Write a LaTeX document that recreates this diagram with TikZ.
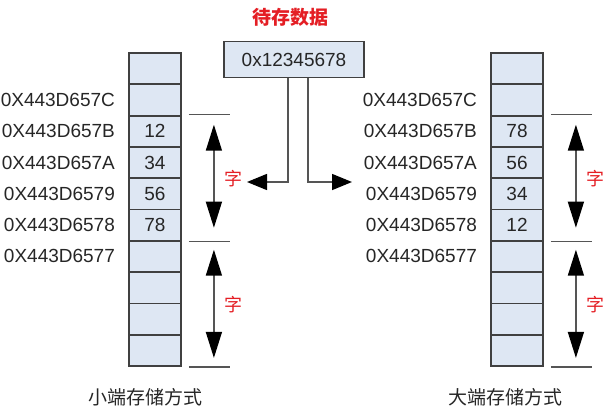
\documentclass[tikz,border=0pt]{standalone}
\usepackage{fontspec}
\setmainfont{Liberation Sans}
\newfontfamily\cjk{Noto Sans CJK SC}
\usetikzlibrary{arrows.meta, positioning}
\definecolor{cellfill}{RGB}{222,231,243}
\definecolor{cellline}{RGB}{64,64,64}
\definecolor{wordred}{RGB}{228,30,36}
\definecolor{wiregray}{RGB}{85,85,85}

\begin{document}
\begin{tikzpicture}[x=1pt, y=-1pt,
    % memory cell - one byte
    cell/.style={rectangle, draw=cellline, line width=1.8pt, fill=cellfill,
        minimum width=52pt, minimum height=31.3pt, inner sep=0pt,
        font=\fontsize{19}{19}\selectfont, text=black!85},
    % address label left of a cell
    addr/.style={font=\fontsize{19}{19}\selectfont, text=black!85, inner sep=0pt},
    % value box at top
    databox/.style={rectangle, draw=cellline, line width=1.5pt, fill=cellfill,
        minimum width=140pt, minimum height=36pt, inner sep=0pt,
        font=\fontsize{19}{19}\selectfont, text=black!85},
    % red title and word labels
    ttl/.style={font=\cjk\bfseries\fontsize{19}{19}\selectfont, text=wordred, inner sep=0pt},
    wordlbl/.style={font=\cjk\fontsize{18}{18}\selectfont, text=wordred, inner sep=0pt},
    % bottom caption
    captxt/.style={font=\cjk\fontsize{19}{19}\selectfont, text=black!85, inner sep=0pt},
    % word boundary tick
    wordtick/.style={draw=wiregray, line width=1.5pt},
    % word size arrow
    dbl/.style={draw=wiregray, line width=1.5pt,
        {Triangle[length=26pt, width=16pt, color=black]}-{Triangle[length=26pt, width=16pt, color=black]}},
    % feed arrow from value box
    feed/.style={draw=wiregray, line width=1.5pt, -{Triangle[length=20pt, width=16pt, color=black]}}
]
    \useasboundingbox (0,0) rectangle (607,412);

    % value to be stored
    \node[databox] (val) at (294,59.5) {0x12345678};
    \node[ttl] (title) at (290,17) {待存数据};

    % little endian column (left)
    \foreach \i/\v in {1/{},2/{},3/12,4/34,5/56,6/78,7/{},8/{},9/{},10/{}}
        \node[cell] (l\i) at (155,{53+31.3*(\i-0.5)}) {\v};
    % big endian column (right)
    \foreach \i/\v in {1/{},2/{},3/78,4/56,5/34,6/12,7/{},8/{},9/{},10/{}}
        \node[cell] (r\i) at (517,{53+31.3*(\i-0.5)}) {\v};

    % addresses
    \foreach \i/\a in {2/0X443D657C,3/0X443D657B,4/0X443D657A,5/0X443D6579,6/0X443D6578,7/0X443D6577} {
        \node[addr, left=13pt of l\i] (la\i) {\a};
        \node[addr, left=13pt of r\i] (ra\i) {\a};
    }

    % word brackets
    \foreach \s in {l,r} {
        \coordinate (\s t1) at ([xshift=32pt]\s3.north east);
        \coordinate (\s t2) at ([xshift=32pt]\s6.south east);
        \coordinate (\s t3) at ([xshift=32pt]\s10.south east);
        \foreach \k in {1,2,3}
            \draw[wordtick] ([xshift=-25pt]\s t\k) -- ([xshift=16pt]\s t\k);
        \draw[dbl, shorten <=10pt, shorten >=14pt] (\s t1) -- node[wordlbl, right=10pt] (\s w1) {字} (\s t2);
        \draw[dbl, shorten <=8pt, shorten >=9pt] (\s t2) -- node[wordlbl, right=10pt] (\s w2) {字} (\s t3);
    }

    % feed arrows
    \coordinate (lin) at (247,182);
    \coordinate (rin) at (352,182);
    \draw[feed] ([xshift=-6pt]val.south) |- (lin);
    \draw[feed] ([xshift=14pt]val.south) |- (rin);

    % captions
    \node[captxt] (lcap) at ([xshift=-10pt, yshift=-30pt]l10.south) {小端存储方式};
    \node[captxt] (rcap) at ([xshift=-12pt, yshift=-30pt]r10.south) {大端存储方式};
\end{tikzpicture}
\end{document}
